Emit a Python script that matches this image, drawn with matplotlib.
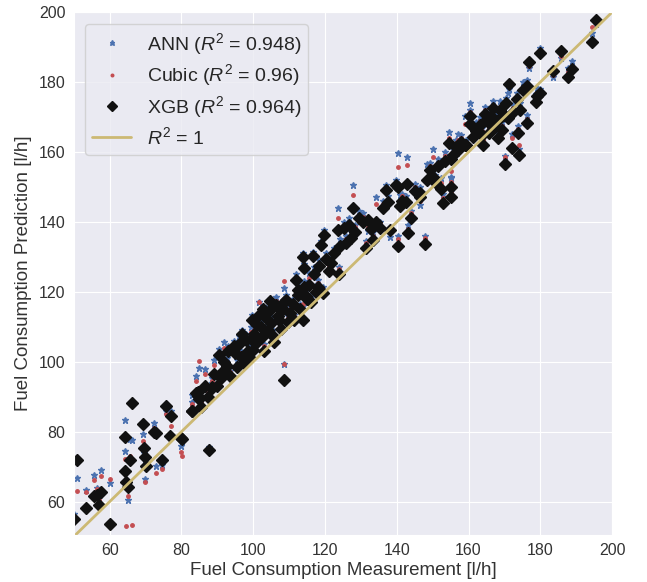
import matplotlib
matplotlib.use("Agg")
import matplotlib.pyplot as plt
import seaborn as sns
import numpy as np

# measurement, XGB prediction, ANN prediction, Cubic prediction
meas = [50.2, 51.0, 53.4, 55.6, 56.5, 57.0, 57.5, 60.1, 64.2, 64.4, 64.6, 65.2, 65.6, 66.1, 69.3, 69.6, 69.8, 70.0,
        72.3, 72.9, 74.5, 75.6, 76.7, 77.0, 79.8, 80.1, 82.9, 84.5, 84.7, 87.7, 88.6,
        83.0, 84.0, 84.8, 85.5, 86.6, 87.5, 88.6, 89.1, 90.0, 90.5, 91.0, 91.5, 91.9, 92.8, 93.0, 93.5, 94.7, 95.0,
        95.6, 96.0, 96.5, 97.0, 97.5, 98.0, 98.5, 99.0, 99.5, 99.8, 100.0, 100.3, 100.8, 101.2, 101.5, 102.1, 102.5,
        102.8, 103.1, 103.5, 104.0, 104.5, 104.8, 105.0, 105.5, 105.9, 106.3, 106.8, 107.3, 107.8, 108.2, 108.7,
        108.7, 109.1, 109.6, 110.2, 111.0, 111.5,
        111.9, 112.4, 112.5, 113.0, 113.8, 113.8, 114.2, 114.2, 114.7, 115.0, 115.5, 116.0, 116.6, 117.0, 117.5,
        118.0, 118.2, 118.9, 119.5, 119.8, 120.3, 121.0, 121.7, 122.5, 123.5, 124.0, 124.3, 125.4, 125.9, 126.8,
        127.2, 127.7, 128.5, 129.5, 130.5, 131.5, 131.9, 132.8, 133.3, 134.1, 135.2, 136.1, 137.1, 137.5, 138.2,
        139.8, 140.3, 140.3, 140.8, 141.5, 142.6, 142.8, 143.1, 144.0, 145.0, 146.4, 146.4, 147.8, 148.5, 149.2,
        150.1, 150.6, 151.5, 152.4, 152.9, 153.5, 154.7, 155.0, 155.2, 155.2, 155.6, 156.5, 157.0, 158.0, 158.9,
        159.4, 160.3, 160.5, 161.3, 162.0, 163.1, 163.8, 164.0, 164.5, 165.0, 165.8, 166.0, 166.4, 166.8, 167.3,
        167.8, 168.2, 168.7, 169.2, 169.8, 170.1, 170.5, 171.0, 171.2, 172.0, 172.5, 173.5, 173.8, 174.0, 174.3,
        175.2, 176.2, 176.3, 176.9, 178.8, 179.0, 179.9, 179.9, 183.6, 185.7, 187.8, 188.9, 194.3, 195.5]

pred_xgb = [55.0, 71.8, 58.2, 61.5, 62.0, 59.1, 62.7, 53.7, 78.5, 68.7, 65.5, 64.2, 71.8, 88.2, 82.3, 75.3, 72.8, 70.3,
            79.8, 79.5, 72.0, 87.4, 78.9, 84.4, 78.2, 78.0, 85.8, 91.5, 90.3, 74.7, 92.8,
            85.8, 91.0, 89.5, 87.0, 93.0, 90.0, 92.5, 96.5, 93.0, 102.0, 95.3, 97.5, 100.0, 98.7, 103.0, 96.0, 104.4, 102.5,
            98.4, 105.0, 101.5, 108.0, 99.7, 106.3, 103.0, 101.0, 106.5, 112.0, 103.5, 108.0, 105.5, 110.5, 113.5, 110.1, 107.0,
            115.0, 103.0, 112.5, 109.0, 114.4, 117.5, 111.0, 107.5, 105.8, 116.3, 113.0, 112.0, 109.5, 115.0, 94.9,
            117.0, 117.7, 111.5, 114.0, 116.5, 112.0,
            123.4, 119.1, 120.5, 115.0, 112.0, 130.1, 121.5, 126.8, 118.7, 118.0, 122.0, 117.0, 130.3, 125.0, 120.1,
            121.5, 127.5, 133.4, 119.6, 136.3, 129.4, 126.0, 128.2, 131.0, 137.7, 125.0, 133.0, 138.2, 133.9, 139.1,
            135.3, 143.9, 137.0, 141.0, 140.0, 132.5, 140.6, 138.0, 134.9, 140.0, 138.2, 143.9, 149.1, 145.8, 137.7,
            150.6, 133.0, 150.0, 144.5, 146.0, 145.8, 150.9, 136.8, 141.0, 149.0, 147.2, 148.2, 133.7, 152.0, 154.9,
            153.0, 151.5, 156.0, 149.5, 145.5, 157.5, 162.5, 147.1, 150.0, 158.0, 159.1, 161.5, 160.6, 163.0, 162.0,
            162.0, 168.0, 170.3, 164.2, 166.0, 167.7, 165.0, 162.0, 171.0, 169.1, 165.5, 168.0, 170.3, 172.5, 167.2,
            169.0, 163.9, 172.0, 166.3, 170.5, 156.6, 174.0, 169.6, 179.4, 161.3, 171.5, 175.3, 165.5, 159.1, 172.0,
            177.7, 168.4, 178.9, 185.8, 174.4, 176.0, 176.8, 188.4, 183.1, 189.0, 181.5, 183.9, 191.5, 197.9]

pred_ann = [56.5, 66.7, 63.2, 67.7, 64.0, 61.0, 69.1, 65.3, 83.4, 74.4, 65.0, 60.6, 78.0, 77.5, 79.4, 74.0, 66.5, 71.0,
            82.5, 70.3, 70.5, 86.0, 79.0, 85.8, 75.8, 77.0, 90.6, 92.0, 91.0, 75.5, 94.0,
            88.5, 96.0, 98.3, 89.0, 98.0, 92.0, 95.5, 100.5, 94.0, 103.6, 97.0, 99.5, 105.6, 101.0, 104.5, 97.5, 106.0, 104.0,
            100.5, 107.5, 103.0, 109.0, 101.5, 108.0, 105.0, 102.5, 110.0, 113.5, 104.5, 110.5, 107.0, 112.0, 117.0, 111.5, 108.5,
            116.0, 105.0, 114.0, 110.5, 116.5, 118.0, 113.0, 109.0, 107.0, 118.5, 114.5, 113.0, 111.0, 117.0, 99.3,
            121.0, 119.0, 113.0, 116.0, 118.0, 113.5,
            125.0, 121.0, 122.5, 116.5, 116.0, 131.0, 123.0, 128.0, 120.5, 119.5, 125.5, 118.5, 131.5, 127.0, 122.0,
            123.5, 129.0, 134.5, 121.5, 137.7, 131.0, 128.5, 130.0, 132.5, 143.9, 127.0, 135.0, 140.0, 136.0, 141.0,
            137.0, 150.6, 139.0, 143.0, 142.5, 134.5, 137.5, 140.0, 137.0, 147.1, 140.0, 146.0, 150.5, 147.5, 135.8,
            152.0, 136.0, 159.6, 147.7, 148.0, 147.5, 158.5, 139.0, 143.0, 151.0, 144.9, 150.0, 136.0, 156.5, 157.0,
            160.8, 153.5, 158.0, 152.5, 148.0, 160.0, 165.8, 149.0, 152.5, 153.0, 161.0, 163.5, 165.1, 165.0, 170.3,
            163.5, 174.1, 172.0, 166.0, 168.5, 170.0, 167.0, 164.5, 173.0, 171.5, 167.5, 170.0, 172.0, 174.7, 169.5,
            171.0, 166.0, 174.5, 168.5, 172.5, 159.0, 175.5, 177.0, 178.0, 165.1, 173.5, 177.0, 167.4, 161.0, 174.0,
            180.1, 170.5, 180.5, 184.0, 176.5, 178.2, 178.0, 189.8, 181.5, 187.0, 184.0, 186.0, 194.1, 196.5]

pred_cubic = [55.5, 63.0, 62.8, 66.2, 63.5, 60.5, 67.2, 66.5, 79.0, 72.2, 53.1, 61.5, 73.0, 53.4, 77.3, 74.5, 65.6, 70.5,
              81.1, 68.2, 69.4, 85.0, 78.5, 81.7, 74.1, 73.0, 88.0, 91.0, 90.0, 75.0, 93.0,
              87.0, 94.5, 100.2, 88.5, 96.5, 91.0, 94.5, 99.0, 93.5, 102.5, 96.0, 98.0, 104.0, 100.0, 103.5, 97.0, 105.0, 102.0,
              99.5, 106.0, 102.5, 107.0, 100.5, 106.5, 104.0, 101.5, 108.5, 112.5, 103.0, 109.0, 106.0, 111.0, 117.2, 110.5, 107.5,
              114.0, 104.5, 113.0, 109.5, 115.0, 117.0, 112.0, 108.0, 106.5, 117.5, 114.0, 112.5, 110.0, 116.0, 99.3,
              123.0, 118.0, 112.5, 115.0, 117.0, 113.0,
              124.0, 120.0, 121.5, 116.0, 116.5, 129.5, 122.0, 127.0, 119.5, 119.0, 124.0, 118.0, 130.0, 126.0, 121.0,
              122.5, 128.0, 133.0, 120.5, 136.0, 130.0, 127.5, 129.0, 131.5, 141.0, 126.5, 134.0, 139.0, 135.0, 140.0,
              136.0, 147.8, 138.5, 142.0, 141.5, 134.0, 138.5, 139.0, 136.0, 145.0, 139.5, 145.0, 149.5, 146.5, 137.0,
              151.0, 135.0, 155.6, 146.0, 147.5, 146.5, 156.3, 138.0, 142.5, 150.0, 146.0, 149.0, 135.5, 155.0, 156.0,
              158.5, 152.5, 157.0, 151.1, 147.0, 159.0, 164.0, 148.5, 151.5, 154.5, 160.0, 162.5, 163.5, 164.0, 168.0,
              163.0, 171.5, 171.0, 165.5, 167.5, 169.0, 166.0, 163.5, 172.0, 170.5, 166.5, 169.0, 171.0, 173.5, 168.5,
              170.0, 165.0, 173.0, 167.5, 171.5, 158.5, 174.5, 174.0, 178.5, 164.0, 172.5, 176.0, 166.5, 162.0, 173.0,
              178.5, 169.5, 179.5, 184.5, 175.5, 177.0, 177.5, 188.0, 182.0, 187.5, 183.0, 184.5, 195.8, 197.0]

r2_ann, r2_cubic, r2_xgb = 0.948, 0.96, 0.964
ideal = [50, 200]

sns.set_style("darkgrid")
plt.rcParams['font.family'] = ['Liberation Sans', 'DejaVu Sans']
plt.rcParams['mathtext.fontset'] = 'custom'
plt.rcParams['mathtext.rm'] = 'Liberation Sans'
plt.rcParams['mathtext.it'] = 'Liberation Sans:italic'

fig = plt.figure(figsize=(6.47, 5.82), dpi=100)
ax = fig.add_axes([0.114, 0.081, 0.832, 0.898])

ax.plot(meas, pred_ann, linestyle='none', marker='*', color='#4C72B0', markersize=5,
        label=r'ANN ($R^2$ = %s)' % r2_ann)
ax.plot(meas, pred_cubic, linestyle='none', marker='.', color='#C44E52', markersize=5,
        label=r'Cubic ($R^2$ = %s)' % r2_cubic)
ax.plot(meas, pred_xgb, linestyle='none', marker='D', color='#111111', markersize=6.5,
        label=r'XGB ($R^2$ = %s)' % r2_xgb)
ax.plot(ideal, ideal, color='#CCB974', linewidth=2, label=r'$R^2$ = 1')

ax.set_xlim(50, 200)
ax.set_ylim(50.5, 200)
ax.set_xticks([60, 80, 100, 120, 140, 160, 180, 200])
ax.set_yticks([60, 80, 100, 120, 140, 160, 180, 200])
ax.tick_params(labelsize=11.5, colors='#333333', length=0, pad=6)
ax.set_xlabel('Fuel Consumption Measurement [l/h]', fontsize=13.5, color='#333333', labelpad=3)
ax.set_ylabel('Fuel Consumption Prediction [l/h]', fontsize=13.5, color='#333333', labelpad=5)
ax.legend(loc='upper left', fontsize=14, frameon=True, labelspacing=0.3, markerscale=0.75,
          borderaxespad=0.6, handletextpad=0.8, borderpad=0.35)

fig.savefig('out.png', dpi=100)
